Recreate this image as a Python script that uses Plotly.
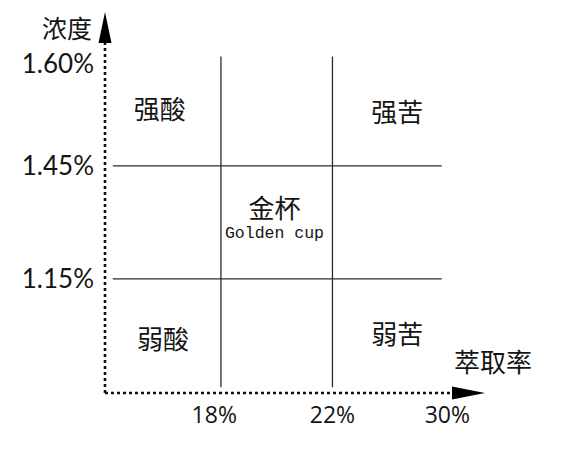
import plotly.graph_objects as go

# extraction rate (x) and concentration (y) thresholds, placed on an index scale
x_ticks = ["18%", "22%", "30%"]
x_pos = [0.94, 2, 3.03]
y_ticks = ["1.15%", "1.45%", "1.60%"]
y_pos = [1, 2, 2.9]

# the two inner thresholds on each axis split the chart into zones
x_split = [1, 2]
y_split = [1, 2]

zone_names = ["强酸", "强苦", "金杯", "弱酸", "弱苦"]
zone_x = [0.45, 2.58, 1.48, 0.48, 2.58]
zone_y = [2.47, 2.45, 1.6, 0.44, 0.48]

x_title = "萃取率"
y_title = "浓度"

# page body adds an 8px margin, so the figure is drawn 8px in
PAD = 8
W, H = 564 - 2 * PAD, 453 - 2 * PAD
plot_w, plot_h = 380, 381
L, T = 105 - PAD, 12 - PAD
R, B = W - L - plot_w, H - T - plot_h

ink = "#151515"
cjk = "Noto Sans CJK SC"


def to_paper(px, py):
    # position in the reference picture -> paper coordinates
    return (px - 105) / plot_w, (393 - py) / plot_h


fig = go.Figure()

# solid threshold lines
for xv in x_split:
    fig.add_trace(go.Scatter(x=[xv, xv], y=[0.04, 2.97], mode="lines",
                             line=dict(color="#2a2a2a", width=1.3),
                             hoverinfo="skip", showlegend=False))
for yv in y_split:
    fig.add_trace(go.Scatter(x=[0.03, 2.98], y=[yv, yv], mode="lines",
                             line=dict(color="#2a2a2a", width=1.3),
                             hoverinfo="skip", showlegend=False))

# zone labels
fig.add_trace(go.Scatter(x=zone_x, y=zone_y, mode="text", text=zone_names,
                         textfont=dict(family=cjk, size=26, color=ink),
                         hoverinfo="skip", showlegend=False, cliponaxis=False))
fig.add_trace(go.Scatter(x=[zone_x[2]], y=[zone_y[2] - 0.2], mode="text",
                         text=["Golden cup"],
                         textfont=dict(family="Liberation Mono", size=16.5, color=ink),
                         hoverinfo="skip", showlegend=False, cliponaxis=False))

# dashed axes with arrowheads, in paper coordinates
ay_len = 31 / plot_h
ay_half = 6.5 / plot_w
ax_len = 33 / plot_w
ax_half = 6.5 / plot_h
dash = dict(color="#111", width=2.6, dash="dot")
shapes = [
    dict(type="line", xref="paper", yref="paper", x0=0, y0=0, x1=0, y1=1 - ay_len, line=dash),
    dict(type="line", xref="paper", yref="paper", x0=0, y0=0, x1=1 - ax_len, y1=0, line=dash),
    dict(type="path", xref="paper", yref="paper",
         path=f"M{-ay_half},{1 - ay_len} L0,1 L{ay_half},{1 - ay_len} Z",
         fillcolor="#000", line=dict(width=0)),
    dict(type="path", xref="paper", yref="paper",
         path=f"M{1 - ax_len},{-ax_half} L1,0 L{1 - ax_len},{ax_half} Z",
         fillcolor="#000", line=dict(width=0)),
]

yt_x, _ = to_paper(67, 0)
fig_top = 1 + T / plot_h
xt_x, xt_y = to_paper(493, 360)
annotations = [
    # y title sits against the top edge of the figure
    dict(text=y_title, xref="paper", yref="paper", x=yt_x, y=fig_top,
         xanchor="center", yanchor="top", showarrow=False, borderpad=0,
         font=dict(family=cjk, size=25, color=ink)),
    dict(text=x_title, xref="paper", yref="paper", x=xt_x, y=xt_y,
         xanchor="center", yanchor="middle", showarrow=False,
         font=dict(family=cjk, size=26, color=ink)),
]

fig.update_layout(
    width=W, height=H,
    margin=dict(l=L, r=R, t=T, b=B),
    paper_bgcolor="white", plot_bgcolor="white",
    shapes=shapes, annotations=annotations,
    xaxis=dict(range=[-0.04, 3.368], tickvals=x_pos, ticktext=x_ticks,
               showgrid=False, zeroline=False, showline=False, ticks="",
               ticklabelstandoff=6,
               tickfont=dict(family="Open Sans", size=23, color=ink)),
    yaxis=dict(range=[-0.01, 3.363], tickvals=y_pos, ticktext=y_ticks,
               showgrid=False, zeroline=False, showline=False, ticks="",
               ticklabelstandoff=10,
               tickfont=dict(family="Lato", size=26, color=ink)),
)

fig.write_html("out.html")
